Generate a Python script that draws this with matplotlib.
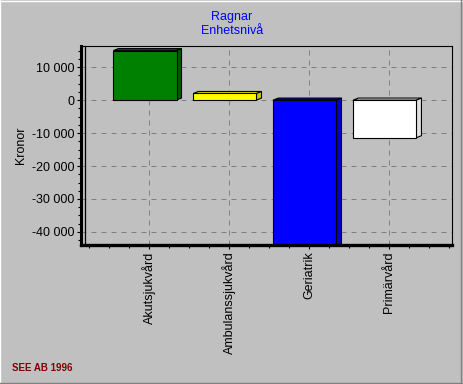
import matplotlib
matplotlib.use("Agg")
import matplotlib.pyplot as plt
from matplotlib.ticker import MultipleLocator, FuncFormatter
from matplotlib.transforms import ScaledTranslation
from matplotlib.patches import Polygon
from matplotlib.lines import Line2D

plt.rcParams['font.family'] = ['Liberation Sans', 'DejaVu Sans']

# data
categories = ['Akutsjukvård', 'Ambulanssjukvård', 'Geriatrik', 'Primärvård']
values = [15000, 2000, -44500, -11400]
front_colors = ['#008000', '#ffff00', '#0000ff', '#ffffff']
side_colors = ['#005c00', '#c8c800', '#0000c8', '#e0e0e0']
top_colors = ['#006800', '#e8e800', '#0000d8', '#ffffff']
title_lines = ['Ragnar', 'Enhetsnivå']

bg = '#c0c0c0'
fig = plt.figure(figsize=(4.64, 3.84), dpi=100, facecolor=bg)
ax = fig.add_axes([81 / 464, 1 - 244.5 / 384, 370.5 / 464, 198.5 / 384])
ax.set_facecolor(bg)

ax.set_xlim(-0.854, 3.778)
ax.set_ylim(-43800, 16400)

x = list(range(len(categories)))
width = 0.79
shift = -0.055

ax.bar([i + shift for i in x], values, width=width, color=front_colors,
       edgecolor='black', linewidth=0.8, zorder=3)

# 3D depth faces (5 px right, 2 px up), converted to data units
xr = ax.get_xlim()[1] - ax.get_xlim()[0]
yr = ax.get_ylim()[1] - ax.get_ylim()[0]
dx = 5 * xr / ax.bbox.width
dy = 2 * yr / ax.bbox.height
for i, v in enumerate(values):
    x0 = i + shift - width / 2
    x1 = i + shift + width / 2
    lo, hi = min(0, v), max(0, v)
    top = Polygon([(x0, hi), (x1, hi), (x1 + dx, hi + dy), (x0 + dx, hi + dy)],
                  closed=True, facecolor=top_colors[i], edgecolor='black',
                  linewidth=0.8, zorder=2.5)
    side = Polygon([(x1, lo), (x1 + dx, lo + dy), (x1 + dx, hi + dy), (x1, hi)],
                   closed=True, facecolor=side_colors[i], edgecolor='black',
                   linewidth=0.8, zorder=2.5)
    ax.add_patch(top)
    ax.add_patch(side)

ax.set_xticks(x)
ax.set_xticklabels(categories, rotation=90, fontsize=9)
ax.xaxis.set_minor_locator(MultipleLocator(0.25))
ax.yaxis.set_major_locator(MultipleLocator(10000))
ax.yaxis.set_minor_locator(MultipleLocator(2500))
ax.yaxis.set_major_formatter(FuncFormatter(
    lambda v, p: f"{int(round(v)):,}".replace(',', ' ')))
ax.tick_params(axis='both', which='major', direction='out', length=3,
               width=0.8, pad=2, labelsize=9, colors='black')
ax.tick_params(axis='both', which='minor', direction='out', length=2, width=0.8)

ax.grid(True, which='major', color='#808080', linestyle=(0, (5, 5)),
        linewidth=0.72, zorder=1)
ax.set_axisbelow(True)

ax.spines['left'].set_linewidth(2.2)
ax.spines['bottom'].set_linewidth(2.4)
ax.spines['top'].set_linewidth(0.8)
ax.spines['right'].set_linewidth(0.8)
for s in ax.spines.values():
    s.set_zorder(5)

# inner thin frame line next to the thick left axis
ax.plot([0, 0], [0, 1], color='black', linewidth=0.9, clip_on=False, zorder=5,
        transform=ax.transAxes + ScaledTranslation(4 / 100, 0, fig.dpi_scale_trans))

fig.text(21 / 464, 1 - 145 / 384, 'Kronor', rotation=90, ha='center',
         va='center', fontsize=9)
fig.text(232 / 464, 1 - 24 / 384, '\n'.join(title_lines), ha='center',
         va='center', color='#0000ff', fontsize=9, linespacing=1.3)
fig.text(12 / 464, 1 - 368 / 384, 'SEE AB 1996', ha='left', va='center',
         color='#800000', fontsize=7, fontweight='bold')

# window-style border
for xs, ys, c in [([0, 1], [0.998, 0.998], 'white'),
                  ([0.001, 0.001], [0, 1], 'white'),
                  ([0, 1], [1 - 382.5 / 384] * 2, '#808080'),
                  ([461.5 / 464] * 2, [0, 1], '#808080')]:
    fig.add_artist(Line2D(xs, ys, color=c, linewidth=1, transform=fig.transFigure))

plt.savefig('out.png', dpi=100, facecolor=bg)
